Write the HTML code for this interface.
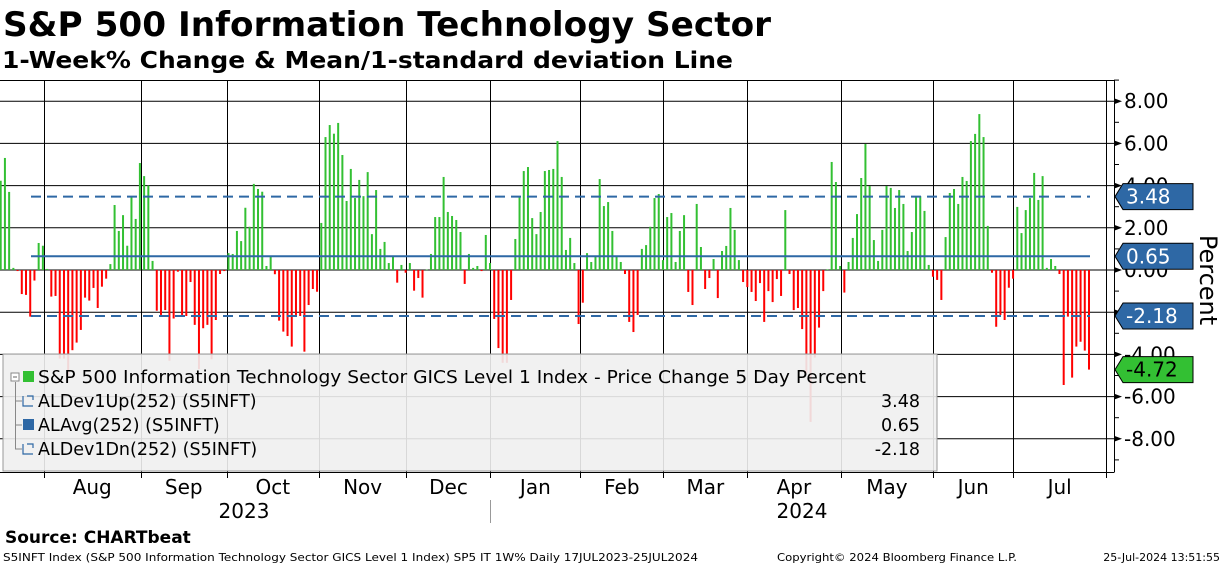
<!DOCTYPE html>
<html><head><meta charset="utf-8"><style>
html,body{margin:0;padding:0;background:#fff;}
svg{display:block;font-family:"DejaVu Sans","Liberation Sans",sans-serif;}
</style></head><body>
<svg id="chart" width="1224" height="566" viewBox="0 0 1224 566" xmlns="http://www.w3.org/2000/svg">
<text x="3" y="36" font-size="34" font-weight="bold" textLength="768" lengthAdjust="spacingAndGlyphs">S&amp;P 500 Information Technology Sector</text>
<text x="2" y="68" font-size="23" font-weight="bold" textLength="731" lengthAdjust="spacingAndGlyphs">1-Week% Change &amp; Mean/1-standard deviation Line</text>
<line x1="0" y1="80.5" x2="1114" y2="80.5" stroke="#000" stroke-width="1"/>
<g id="grid"></g>
<g id="bars"></g>
<g id="stats"></g>
<g id="legend">
<rect x="3" y="354" width="934" height="117" fill="#f0f0f0" fill-opacity="0.9" stroke="#999" stroke-width="1"/>
<path d="M15.5 382 V449 H22 M15.5 401 H22 M15.5 425 H22" stroke="#888" fill="none"/>
<rect x="11" y="373" width="8" height="8" fill="#fff" stroke="#888"/>
<line x1="13" y1="377" x2="17" y2="377" stroke="#666"/>
<rect x="23" y="371" width="11" height="11" fill="#33c033"/>
<text x="38" y="383" font-size="17.5" textLength="828" lengthAdjust="spacingAndGlyphs">S&amp;P 500 Information Technology Sector GICS Level 1 Index - Price Change 5 Day Percent</text>
<path d="M23 396 V406 H33 M27 396 H33 V400" stroke="#2e68a5" fill="none" stroke-width="1.2"/>
<text x="38" y="407" font-size="17.5">ALDev1Up(252) (S5INFT)</text>
<text x="920" y="407" font-size="17.5" text-anchor="end">3.48</text>
<rect x="23" y="419" width="11" height="11" fill="#2e68a5"/>
<text x="38" y="431" font-size="17.5">ALAvg(252) (S5INFT)</text>
<text x="920" y="431" font-size="17.5" text-anchor="end">0.65</text>
<path d="M23 444 V454 H33 M27 444 H33 V448" stroke="#2e68a5" fill="none" stroke-width="1.2"/>
<text x="38" y="455" font-size="17.5">ALDev1Dn(252) (S5INFT)</text>
<text x="920" y="455" font-size="17.5" text-anchor="end">-2.18</text>
</g>
<g id="axes"></g>
<g id="tags"></g>
<text transform="translate(1200,280) rotate(90)" font-size="24" text-anchor="middle">Percent</text>
<text x="244" y="518" font-size="20" text-anchor="middle">2023</text>
<text x="802" y="518" font-size="20" text-anchor="middle">2024</text>
<line x1="490.5" y1="500" x2="490.5" y2="523" stroke="#999"/>
<text x="5" y="543" font-size="17" font-weight="bold">Source: CHARTbeat</text>
<text x="3" y="561" font-size="11" textLength="695" lengthAdjust="spacingAndGlyphs">S5INFT Index (S&amp;P 500 Information Technology Sector GICS Level 1 Index) SP5 IT 1W%  Daily 17JUL2023-25JUL2024</text>
<text x="777" y="561" font-size="11" textLength="240" lengthAdjust="spacingAndGlyphs">Copyright© 2024 Bloomberg Finance L.P.</text>
<text x="1220" y="561" font-size="11" text-anchor="end">25-Jul-2024 13:51:55</text>
</svg>
<script>
const values = [4.23,5.31,3.70,0.1,-0.05,-1.14,-1.18,-2.21,-0.5,1.28,1.15,0.05,-1.26,-1.23,-4.2,-4.2,-5.0,-3.8,-3.44,-2.84,-1.31,-1.45,-0.85,-1.8,-0.79,-0.41,0.28,3.08,1.85,2.6,1.15,3.5,2.42,5.07,4.45,4.0,0.43,-1.93,-2.13,-1.9,-4.3,-2.3,-0.08,-2.13,-2.18,-0.57,-2.6,-4.7,-2.76,-2.6,-4.23,-2.37,-0.19,-0.05,0.8,0.76,1.85,1.37,2.95,2.05,4.08,3.84,3.71,0.19,0.63,-0.2,-2.4,
-2.92,-3.13,-3.63,-2.13,-2.18,-3.87,-1.66,-0.9,-1.03,2.23,6.3,6.87,6.46,6.97,5.45,3.27,4.79,3.41,4.27,3.5,4.64,1.7,3.79,1.0,1.33,0.33,0.62,-0.6,0.24,-0.13,0.33,-0.98,-0.38,-1.31,0.02,0.76,2.51,2.51,4.41,2.75,2.56,2.37,1.8,-0.66,0.76,0.1,0.19,-0.05,1.66,0.33,-2.32,-3.7,-4.4,-4.4,-1.42,1.47,3.5,4.69,4.88,2.46,1.7,2.75,4.69,4.74,
4.79,6.11,4.41,0.95,1.52,0.33,-2.56,-1.55,0.8,0.38,0.66,4.31,3.03,3.22,1.85,0.63,0.38,-0.19,-2.46,-2.94,-2.13,1.0,1.18,2.05,3.41,3.6,0.47,2.51,2.7,0.38,1.85,2.6,-1.04,-1.66,3.13,1.09,-0.9,-0.38,0.52,-1.33,0.9,1.14,2.94,1.9,0.47,-0.57,-0.81,-1.04,-1.47,-0.62,-2.46,-1.0,-1.52,-0.43,-1.23,2.84,-0.19,-1.9,-1.8,-2.8,-4.9,-7.2,-4.15,-2.73,
-1.0,0.03,5.12,4.17,0.19,-1.07,0.38,1.52,2.65,4.36,5.97,3.98,1.42,0.43,1.9,3.98,3.89,2.94,3.79,3.13,0.9,1.8,3.5,3.5,2.8,0.24,-0.32,-0.47,-1.42,1.56,3.65,3.84,3.13,4.41,4.22,6.11,6.45,7.39,6.3,2.09,-0.13,-2.69,-2.13,-2.37,-0.84,-0.41,2.99,1.75,2.84,3.41,4.6,3.32,4.45,0.1,0.52,0.19,-0.19,-5.45,-2.21,-5.1,-3.63,-3.4,-3.82,-4.72];
const devUp = 3.48;
const avg = 0.65;
const devDn = -2.18;
const yTicks = [8,6,4,2,0,-2,-4,-6,-8];
const yTickLabels = ["8.00","6.00","4.00","2.00","0.00","-2.00","-4.00","-6.00","-8.00"];
const monthLabels = ["Aug","Sep","Oct","Nov","Dec","Jan","Feb","Mar","Apr","May","Jun","Jul"];
const monthStartIdx = [10.2,33.2,53.6,75.4,96.2,116.1,137.4,157.1,177.0,199.1,221.1,240.0,262.1];

const NS="http://www.w3.org/2000/svg";
const X0=0.7, X1=1089;
const step=(X1-X0)/(values.length-1);
const xScale=i=>X0+i*step;
const yScale=v=>270-v*21.1;
function mk(tag,attrs,parent){const e=document.createElementNS(NS,tag);for(const k in attrs)e.setAttribute(k,attrs[k]);parent.appendChild(e);return e;}
const grid=document.getElementById('grid'),bars=document.getElementById('bars'),stats=document.getElementById('stats'),axes=document.getElementById('axes'),tags=document.getElementById('tags');

// horizontal gridlines
yTicks.forEach((t,i)=>{
  const l=mk('line',{x1:0,x2:1114,y1:yScale(t),y2:yScale(t),stroke:'#000','stroke-width':1},grid);
  
  
});
// vertical gridlines (month starts)
monthStartIdx.forEach((m,i)=>{
  const x=Math.round(xScale(m))+0.5;
  const l=mk('line',{x1:x,x2:x,y1:80,y2:472,stroke:'#000','stroke-width':1},grid);
  
  
  const tk=mk('line',{x1:x,x2:x,y1:472,y2:478,stroke:'#000'},axes);
  
  
});
// bars
values.forEach((v,i)=>{
  const x=xScale(i), y0=yScale(0), y1=yScale(v);
  const r=mk('rect',{x:x-1,y:Math.min(y0,y1),width:2,height:Math.max(0.5,Math.abs(y1-y0)),fill:v>=0?'#33c033':'#ff0000'},bars);
  
  
});
// stat lines
[[devUp,'6,5','dev-up-line'],[avg,'','mean-line'],[devDn,'6,5','dev-down-line']].forEach(s=>{
  const a={x1:31,x2:1090,y1:yScale(s[0]),y2:yScale(s[0]),stroke:'#2e68a5','stroke-width':2};
  if(s[1])a['stroke-dasharray']='10,6';
  const l=mk('line',a,stats);
  
  
});
// move legend above bars
const svg=document.getElementById('chart');
svg.insertBefore(document.getElementById('legend'),document.getElementById('axes'));
// axes
const ax=mk('line',{x1:1114.5,x2:1114.5,y1:80,y2:472,stroke:'#000'},axes);


const bx=mk('line',{x1:0,x2:1114.5,y1:472.5,y2:472.5,stroke:'#000'},axes);


for(let v=-9;v<=9;v++){
  if(v%2===0)continue;
  const t=mk('line',{x1:1114,x2:1119,y1:yScale(v),y2:yScale(v),stroke:'#000'},axes);
  
  
}
yTicks.forEach((t,i)=>{
  const y=yScale(t);
  const p=mk('path',{d:`M1114 ${y-3} L1122 ${y} L1114 ${y+3} Z`,fill:'#000'},axes);
  
  
  const tx=mk('text',{x:1124,y:y+7,'font-size':20},axes);
  tx.textContent=yTickLabels[i];
  
  
});
monthLabels.forEach((m,i)=>{
  const cx=(xScale(monthStartIdx[i])+xScale(monthStartIdx[i+1]))/2;
  const tx=mk('text',{x:cx,y:494,'font-size':20,'text-anchor':'middle'},axes);
  tx.textContent=m;
  
  
});
// value tags
[[devUp,'#2e68a5','#fff','tag-dev-up'],[avg,'#2e68a5','#fff','tag-mean'],[devDn,'#2e68a5','#fff','tag-dev-down'],[values[values.length-1],'#33c033','#000','tag-last-value']].forEach(s=>{
  const y=yScale(s[0]);
  const g=mk('g',{},tags);
  
  
  mk('path',{d:`M1115 ${y} L1123 ${y-13} H1193 V${y+13} H1123 Z`,fill:s[1],stroke:'#000','stroke-width':1},g);
  const tx=mk('text',{x:1126,y:y+7,'font-size':20,fill:s[2]},g);
  tx.textContent=s[0].toFixed(2);
});
</script>
</body></html>
